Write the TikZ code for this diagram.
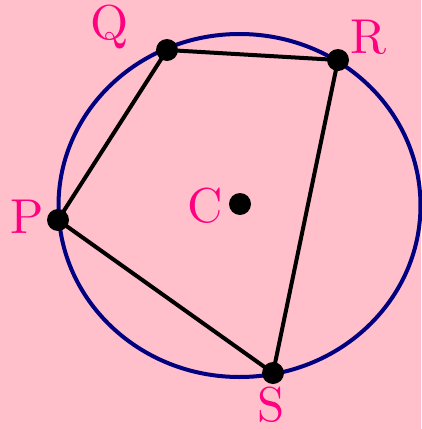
\documentclass[tikz,border=0pt]{standalone}
\usepackage{graphicx}
\definecolor{bgpink}{RGB}{255,192,203}
\definecolor{labpink}{RGB}{255,0,128}
\definecolor{navyc}{RGB}{0,0,128}
\newcommand{\biglab}[1]{\scalebox{4.9}{\fontsize{10}{12}\selectfont #1}}
\begin{document}
\begin{tikzpicture}[x=1pt,y=-1pt,
  vertex/.style={circle,fill=black,inner sep=0pt,minimum size=22pt},
  lab/.style={text=labpink,anchor=base,inner sep=0pt},
  edge/.style={line width=4pt,line join=round,line cap=round}]
\fill[bgpink] (0,0) rectangle (421,429);
\useasboundingbox (0,0) rectangle (421,429);
\coordinate (O) at (239.5,205.5);
\draw[navyc,line width=4pt] (O) ellipse [x radius=181pt, y radius=171.5pt];
\coordinate (q) at (167,50);
\coordinate (r) at (338,60);
\coordinate (p) at (58,220);
\coordinate (s) at (273,373);
\draw[edge] (p) -- (q) -- (r) -- (s) -- cycle;
\node[vertex] (Q) at (q) {};
\node[vertex] (R) at (r) {};
\node[vertex] (P) at (p) {};
\node[vertex] (S) at (s) {};
\node[vertex] (C) at (240,204) {};
\node[lab] (lQ) at (110,39) {\biglab{Q}};
\node[lab] (lR) at (369,53) {\biglab{R}};
\node[lab] (lP) at (27,233) {\biglab{P}};
\node[lab] (lC) at (205,222) {\biglab{C}};
\node[lab] (lS) at (271,421) {\biglab{S}};
\end{tikzpicture}
\end{document}
